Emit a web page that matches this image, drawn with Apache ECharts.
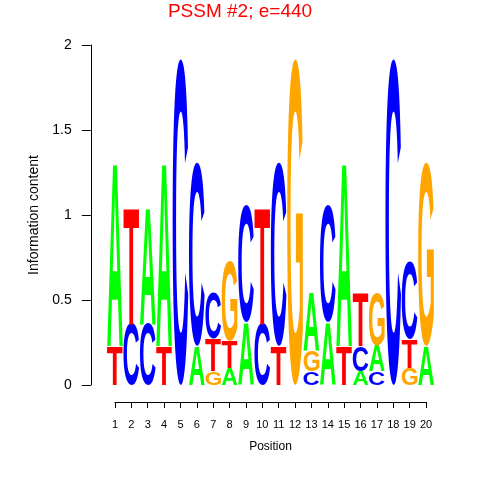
<!DOCTYPE html>
<html><head><meta charset="utf-8">
<script src="https://cdn.jsdelivr.net/npm/echarts@6/dist/echarts.min.js"></script>
<style>html,body{margin:0;padding:0;background:#fff}#c{width:480px;height:480px}</style>
</head><body><div id="c"></div>
<script>
const positions = [1,2,3,4,5,6,7,8,9,10,11,12,13,14,15,16,17,18,19,20];
const xTickLabels = ['1','2','3','4','5','6','7','8','9','10','11','12','13','14','15','16','17','18','19','20'];
const yTickLabels = ['0','0.5','1','1.5','2'];
const A = [1.08, 0,    0.69, 1.08, 0,    0.23, 0,    0.10, 0.37, 0,    0,    0,    0.34, 0.37, 1.08, 0.08, 0.15, 0,    0,    0.23];
const C = [0,    0.36, 0.36, 0,    1.92, 1.08, 0.27, 0,    0.69, 0.36, 1.08, 0,    0.08, 0.69, 0,    0.15, 0.08, 1.92, 0.46, 0   ];
const G = [0,    0,    0,    0,    0,    0,    0.08, 0.47, 0,    0,    0,    1.92, 0.12, 0,    0,    0,    0.31, 0,    0.10, 1.08];
const T = [0.23, 0.69, 0,    0.23, 0,    0,    0.19, 0.16, 0,    0.69, 0.23, 0,    0,    0,    0.23, 0.31, 0,    0,    0.17, 0   ];
const letters = ['A','C','G','T'];
const letterColors = {A:'#00FF00', C:'#0000FF', G:'#FFA500', T:'#FF0000'};

// ---- build stacked letter table (smallest at bottom) ----
const heights = {A:A, C:C, G:G, T:T};
const stackData = [];
positions.forEach((p, i) => {
  const items = letters.map(L => ({L: L, h: heights[L][i]})).filter(d => d.h > 0).sort((a, b) => a.h - b.h);
  let base = 0;
  items.forEach(d => { stackData.push([p, base, base + d.h, letters.indexOf(d.L)]); base += d.h; });
});

// ---- glyph metrics so each letter fills its box ----
const FONT_PX = 100;
const FONT = 'bold ' + FONT_PX + 'px "Liberation Sans", Arial, sans-serif';
const ctx = document.createElement('canvas').getContext('2d');
ctx.font = FONT; ctx.textAlign = 'center'; ctx.textBaseline = 'middle';
const metrics = {};
letters.forEach(L => {
  const m = ctx.measureText(L);
  metrics[L] = {l: m.actualBoundingBoxLeft, r: m.actualBoundingBoxRight, a: m.actualBoundingBoxAscent, d: m.actualBoundingBoxDescent};
});

const FF = '"Liberation Sans", Arial, sans-serif';
const chart = echarts.init(document.getElementById('c'), null, {renderer: 'canvas'});
chart.setOption({
  animation: false,
  backgroundColor: '#ffffff',
  title: {text: 'PSSM #2; e=440', left: 'center', top: -3,
    textStyle: {color: '#FF0000', fontSize: 19, fontWeight: 'normal', fontFamily: FF}},
  grid: [
    {left: 106.8, top: 45, width: 327.4, height: 340, outerBoundsMode: 'none', containLabel: false},
    {left: 115, top: 401, width: 311, height: 1, outerBoundsMode: 'none', containLabel: false}
  ],
  xAxis: [
    {gridIndex: 0, type: 'value', min: 0.5, max: 20.5, show: false},
    {gridIndex: 1, type: 'value', min: 1, max: 20, interval: 1, position: 'bottom',
      axisLine: {show: true, lineStyle: {color: '#000', width: 1}},
      axisTick: {show: true, length: 6, lineStyle: {color: '#000', width: 1}},
      axisLabel: {color: '#000', fontSize: 11, margin: 17, fontFamily: FF,
        formatter: v => xTickLabels[Math.round(v) - 1]},
      splitLine: {show: false},
      name: 'Position', nameLocation: 'middle', nameGap: 39,
      nameTextStyle: {color: '#000', fontSize: 12, fontFamily: FF}}
  ],
  yAxis: [
    {gridIndex: 0, type: 'value', min: 0, max: 2, interval: 0.5, offset: 16,
      axisLine: {show: true, lineStyle: {color: '#000', width: 1}},
      axisTick: {show: true, length: 9, lineStyle: {color: '#000', width: 1}},
      axisLabel: {color: '#000', fontSize: 14, margin: 19, fontFamily: FF,
        formatter: v => yTickLabels[Math.round(v / 0.5)]},
      splitLine: {show: false},
      name: 'Information content', nameLocation: 'middle', nameGap: 41,
      nameTextStyle: {color: '#000', fontSize: 14, fontFamily: FF}},
    {gridIndex: 1, type: 'value', show: false}
  ],
  series: [{
    type: 'custom',
    xAxisIndex: 0, yAxisIndex: 0,
    clip: false,
    silent: true,
    data: stackData,
    renderItem: function (params, api) {
      const pos = api.value(0), y0 = api.value(1), y1 = api.value(2);
      const L = letters[api.value(3)];
      const tl = api.coord([pos - 0.48, y1]);
      const br = api.coord([pos + 0.48, y0]);
      const w = br[0] - tl[0], h = br[1] - tl[1];
      const m = metrics[L];
      const sx = w / (m.l + m.r), sy = h / (m.a + m.d);
      return {
        type: 'text',
        x: tl[0] + m.l * sx, y: tl[1] + m.a * sy,
        scaleX: sx, scaleY: sy,
        style: {text: L, x: 0, y: 0, fill: letterColors[L], font: FONT,
          align: 'center', verticalAlign: 'middle', lineHeight: FONT_PX}
      };
    }
  }]
});
</script></body></html>
